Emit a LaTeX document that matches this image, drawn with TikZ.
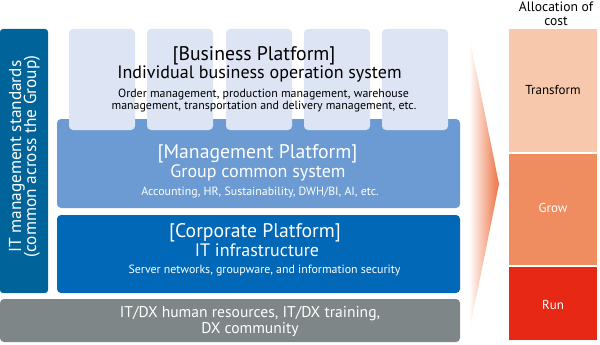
\documentclass[tikz,border=0pt]{standalone}
\usepackage{fontspec}
\setmainfont{PT Sans}
\usetikzlibrary{shadings}
\definecolor{lav}{HTML}{DDE4F4}
\definecolor{mgmt}{HTML}{6B9BD2}
\definecolor{corp}{HTML}{0068B7}
\definecolor{stdc}{HTML}{00649A}
\definecolor{grayb}{HTML}{7F8687}
\definecolor{transc}{HTML}{F7C8AB}
\definecolor{growc}{HTML}{EF8C60}
\definecolor{runc}{HTML}{E62814}
\definecolor{wedgec}{HTML}{EE7244}
\tikzset{
  box/.style={rounded corners=4pt, draw=none},
  lbl/.style={inner sep=0pt, anchor=base},
  ttl/.style={lbl, font=\fontsize{19.7}{21}\selectfont},
  sub/.style={lbl, font=\fontsize{18}{20}\selectfont},
  sml/.style={lbl, font=\fontsize{11.9}{12.5}\selectfont},
  hrt/.style={lbl, text=white, font=\fontsize{15.6}{16}\selectfont},
  std/.style={lbl, rotate=90, text=white, font=\fontsize{17.3}{17}\selectfont},
  cst/.style={inner sep=0pt, font=\fontsize{13}{13}\selectfont},
}
\begin{document}
\begin{tikzpicture}[x=1pt,y=-1pt]
\useasboundingbox (0,0) rectangle (600,345);
% left standards bar
\fill[stdc, rounded corners=3pt] (0,29) rectangle (48,293);
\node[std] (std1) at (21,156.7) {IT management standards};
\node[std] (std2) at (36,156.5) {(common across the Group)};
% management
\fill[mgmt, box] (57,119) rectangle (460,208);
% business boxes
\foreach \x in {69,147,226,304,382} {
  \fill[lav, box] (\x,29) rectangle ++(66,101);
}
\node[ttl] (bp1) at (254,60) {[Business Platform]};
\node[sub] (bp2) at (259.5,78.3) {Individual business operation system};
\node[sml] (bp3) at (263.5,97.3) {Order management, production management, warehouse};
\node[sml] (bp4) at (264,110) {management, transportation and delivery management, etc.};
\node[ttl, text=white] (mp1) at (257.5,158.3) {[Management Platform]};
\node[sub, text=white] (mp2) at (258,177.3) {Group common system};
\node[sml, text=white] (mp3) at (260,195) {Accounting, HR, Sustainability, DWH/BI, AI, etc.};
% corporate
\fill[corp, box] (57,215) rectangle (460,293);
\node[ttl, text=white] (cp1) at (255,237.3) {[Corporate Platform]};
\node[sub, text=white] (cp2) at (257,256.7) {IT infrastructure};
\node[sml, text=white] (cp3) at (264.5,273.3) {Server networks, groupware, and information security};
% gray
\fill[grayb, box] (0,299) rectangle (460,342);
\node[hrt] (hr1) at (250,317.8) {IT/DX human resources, IT/DX training,};
\node[hrt] (hr2) at (250,333.2) {DX community};
% wedge
\shade[left color=white, right color=wedgec] (469,35) -- (499,184) -- (469,333) -- cycle;
% cost bars
\fill[transc] (509,29) rectangle (597,152);
\fill[growc] (509,154) rectangle (597,265);
\fill[runc] (509,267) rectangle (597,340);
\node[lbl, font=\fontsize{13.6}{14}\selectfont] (al1) at (556,11.5) {Allocation of};
\node[lbl, font=\fontsize{13.6}{14}\selectfont] (al2) at (556,25.5) {cost};
\node[cst] (tr) at (553,90) {Transform};
\node[cst, text=white] (gr) at (553,208) {Grow};
\node[cst, text=white] (rn) at (553,305) {Run};
\end{tikzpicture}
\end{document}
